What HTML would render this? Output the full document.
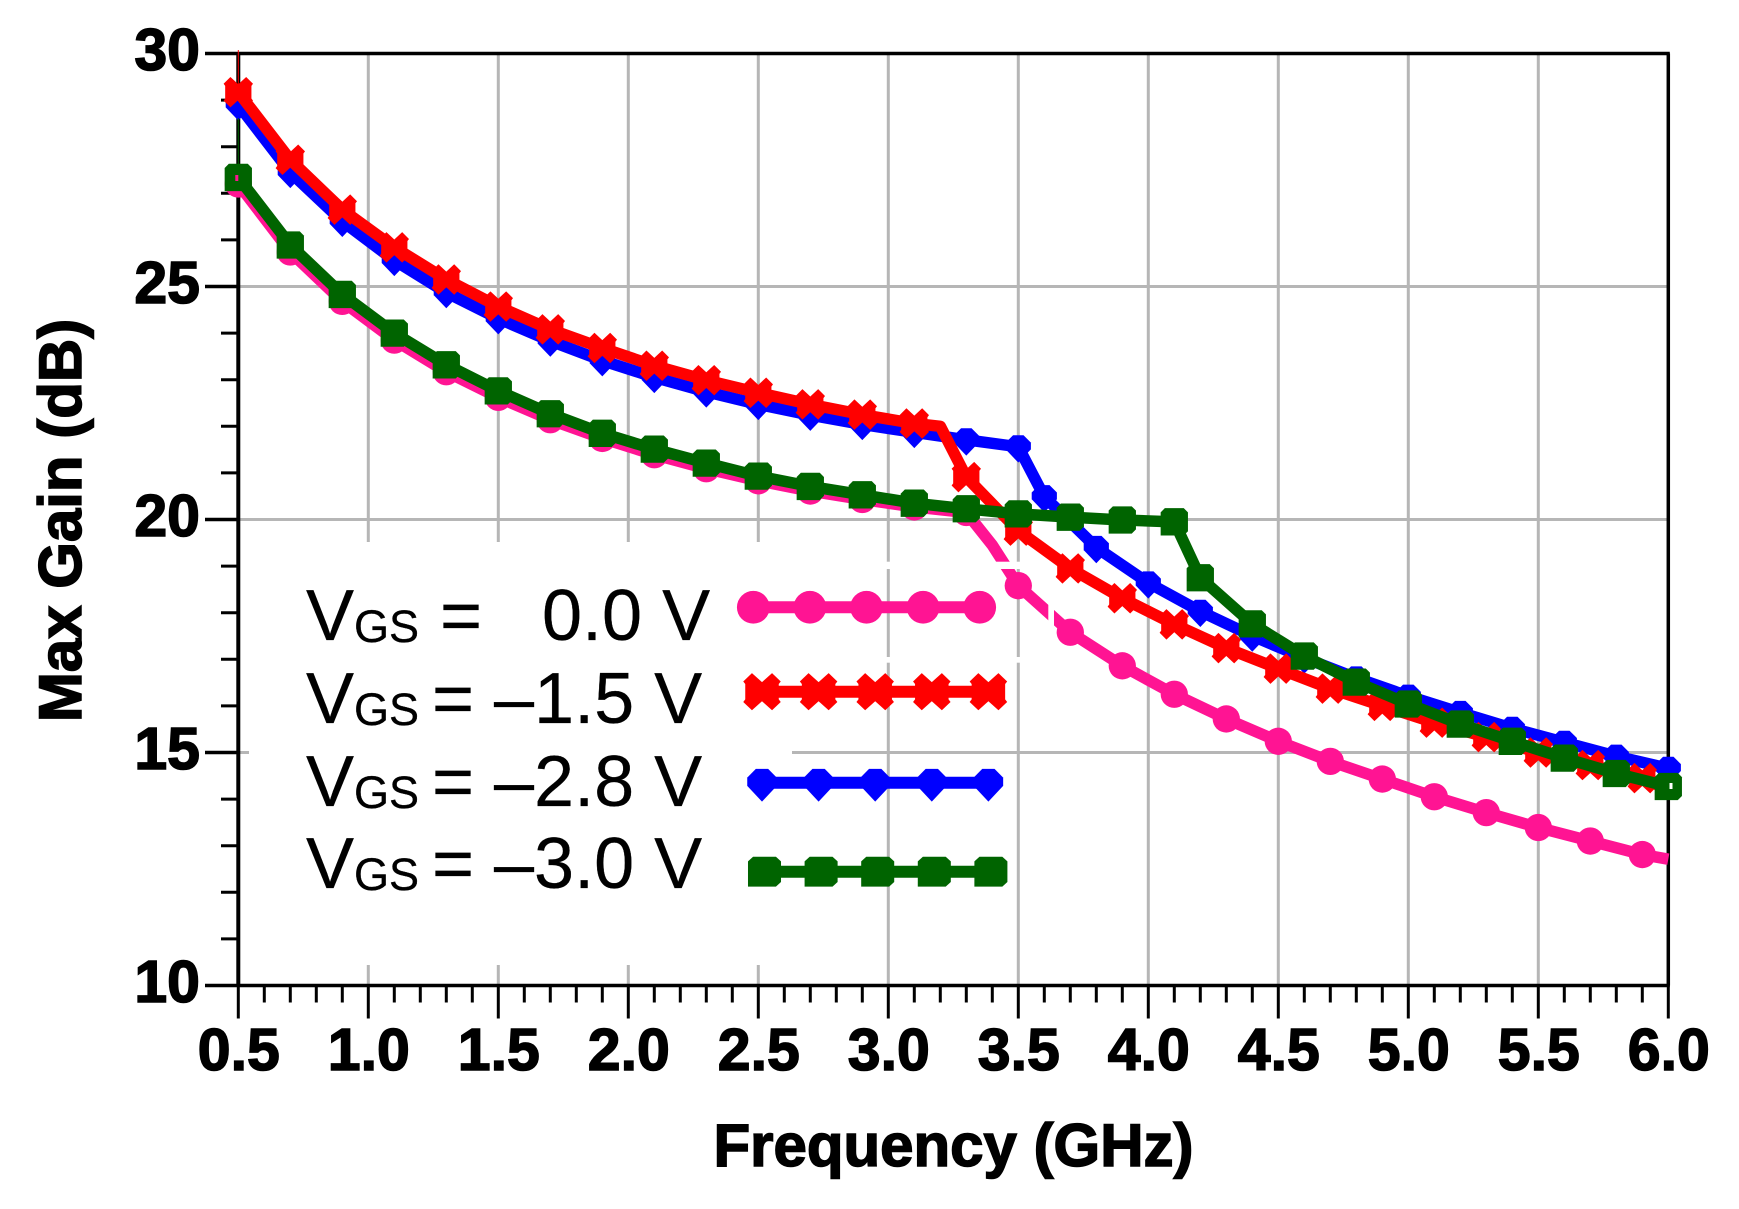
<!DOCTYPE html>
<html lang="en">
<head>
<meta charset="utf-8">
<title>Max Gain vs Frequency</title>
<style>
html,body{margin:0;padding:0;background:#fff;width:1739px;height:1209px;overflow:hidden}
svg{display:block}
text{font-family:"Liberation Sans",Arial,sans-serif;fill:#000}
.bold{font-weight:700;stroke:#000;stroke-width:1.5px}
.tick-label{font-size:59px}
.axis-title{font-size:60px}
.lg{font-size:72px;stroke:#000;stroke-width:.3px}
.sub{font-size:45px;stroke:#000;stroke-width:.3px}
</style>
</head>
<body>
<svg id="chart" xmlns="http://www.w3.org/2000/svg" width="1739" height="1209" viewBox="0 0 1739 1209">
  <rect x="0" y="0" width="1739" height="1209" fill="#fff"/>
  <g id="grid"></g>
  <rect x="249" y="542" width="543" height="423" fill="#fff"/>
  <g id="axes"></g>
  <g id="series"></g>
  <g id="legend-marks"></g>

  <g>
    <g>
      <text class="lg" x="306" y="640">V</text><text class="sub" x="354" y="642">GS</text>
      <text class="lg" x="440" y="640">=</text><text class="lg" x="542" y="640">0.0 V</text>
    </g>
    <g>
      <text class="lg" x="306" y="723">V</text><text class="sub" x="354" y="725">GS</text>
      <text class="lg" x="432" y="723">=</text><text class="lg" x="494" y="723">–1.5 V</text>
    </g>
    <g>
      <text class="lg" x="306" y="806">V</text><text class="sub" x="354" y="808">GS</text>
      <text class="lg" x="432" y="806">=</text><text class="lg" x="494" y="806">–2.8 V</text>
    </g>
    <g>
      <text class="lg" x="306" y="888">V</text><text class="sub" x="354" y="890">GS</text>
      <text class="lg" x="432" y="888">=</text><text class="lg" x="494" y="888">–3.0 V</text>
    </g>
  </g>

  <text class="bold axis-title" x="953.5" y="1166" text-anchor="middle">Frequency (GHz)</text>
  <text class="bold axis-title" transform="translate(81 520.5) rotate(-90)" text-anchor="middle">Max Gain (dB)</text>
</svg>

<script>
const xTickLabels = ["0.5","1.0","1.5","2.0","2.5","3.0","3.5","4.0","4.5","5.0","5.5","6.0"];
const yTickLabels = ["10","15","20","25","30"];

const pinkFreqs = [0.5,0.7,0.9,1.1,1.3,1.5,1.7,1.9,2.1,2.3,2.5,2.7,2.9,3.1,3.3,3.4,3.5,3.7,3.9,4.1,4.3,4.5,4.7,4.9,5.1,5.3,5.5,5.7,5.9,6.0];
const pinkGains = [27.2,25.74,24.68,23.85,23.17,22.62,22.14,21.74,21.39,21.09,20.83,20.61,20.43,20.27,20.15,19.45,18.58,17.58,16.86,16.25,15.72,15.24,14.81,14.43,14.05,13.71,13.39,13.1,12.81,12.71];
const pinkLineOnly = [3.4,6.0];

const redFreqs = [0.5,0.7,0.9,1.1,1.3,1.5,1.7,1.9,2.1,2.3,2.5,2.7,2.9,3.1,3.2,3.3,3.5,3.7,3.9,4.1,4.3,4.5,4.7,4.9,5.1,5.3,5.5,5.7,5.9,6.0];
const redGains = [29.17,27.72,26.65,25.84,25.15,24.57,24.08,23.68,23.3,22.99,22.72,22.47,22.25,22.06,22.0,20.91,19.76,18.95,18.31,17.75,17.24,16.8,16.37,16.0,15.64,15.33,15.0,14.73,14.45,14.2];
const redLineOnly = [3.2,6.0];

const blueFreqs = [0.5,0.7,0.9,1.1,1.3,1.5,1.7,1.9,2.1,2.3,2.5,2.7,2.9,3.1,3.3,3.5,3.6,3.8,4.0,4.2,4.4,4.6,4.8,5.0,5.2,5.4,5.6,5.8,6.0];
const blueGains = [28.9,27.45,26.4,25.56,24.87,24.31,23.83,23.41,23.05,22.74,22.47,22.24,22.04,21.87,21.71,21.56,20.49,19.4,18.64,18.03,17.5,17.03,16.6,16.21,15.86,15.52,15.22,14.92,14.66];
const blueLineOnly = [];

const greenFreqs = [0.5,0.7,0.9,1.1,1.3,1.5,1.7,1.9,2.1,2.3,2.5,2.7,2.9,3.1,3.3,3.5,3.7,3.9,4.1,4.2,4.4,4.6,4.8,5.0,5.2,5.4,5.6,5.8,6.0];
const greenGains = [27.34,25.89,24.83,24.0,23.32,22.76,22.27,21.85,21.51,21.21,20.93,20.71,20.53,20.35,20.23,20.12,20.05,19.99,19.95,18.75,17.76,17.07,16.51,16.04,15.61,15.24,14.88,14.55,14.27];
const greenLineOnly = [];

const SVGNS = "http://www.w3.org/2000/svg";
const X0 = 238.3, PXPERGHZ = 260, Y10 = 985.5, PXPERDB = 46.6;
function xScale(f){ return X0 + (f - 0.5) * PXPERGHZ; }
function yScale(g){ return Y10 - (g - 10) * PXPERDB; }

function make(tag, parent, name){
  const el = document.createElementNS(SVGNS, tag);
  
  
  parent.appendChild(el);
  return el;
}
function line(parent, name, x1, y1, x2, y2, color, w){
  const l = make('line', parent, name);
  l.setAttribute('x1', x1); l.setAttribute('y1', y1);
  l.setAttribute('x2', x2); l.setAttribute('y2', y2);
  l.setAttribute('stroke', color); l.setAttribute('stroke-width', w);
  return l;
}
function rect(parent, name, x, y, w, h, color){
  const r = make('rect', parent, name);
  r.setAttribute('x', x); r.setAttribute('y', y);
  r.setAttribute('width', w); r.setAttribute('height', h);
  r.setAttribute('fill', color);
  return r;
}

/* grid */
const gridG = document.getElementById('grid');
const GRID = '#b6b6b6';
xTickLabels.forEach(function(lab){
  const f = parseFloat(lab);
  if (f > 0.5 && f < 6) line(gridG, 'x-gridline-' + lab, xScale(f), yScale(30), xScale(f), Y10, GRID, 3);
});
yTickLabels.forEach(function(lab){
  const g = parseFloat(lab);
  if (g > 10 && g < 30) line(gridG, 'y-gridline-' + lab, X0, yScale(g), xScale(6), yScale(g), GRID, 3);
});

/* axes */
const axesG = document.getElementById('axes');
line(axesG, 'plot-frame-top', 205, yScale(30), xScale(6) + 1.5, yScale(30), '#000', 3.5);
line(axesG, 'y-axis-line', X0, yScale(30), X0, Y10 + 1.5, '#000', 4);
line(axesG, 'plot-frame-right', xScale(6), yScale(30), xScale(6), Y10, '#000', 3.5);
line(axesG, 'x-axis-line', 205, Y10, xScale(6) + 1.5, Y10, '#000', 3.5);

for (let i = 0; i <= 55; i++) {
  const f = 0.5 + i * 0.1;
  const major = i % 5 === 0;
  line(axesG, major ? 'x-major-tick' : 'x-minor-tick', xScale(f), Y10, xScale(f), Y10 + (major ? 33 : 17), '#000', 3);
}
for (let i = 1; i < 20; i++) {
  if (i % 5 === 0) continue;
  line(axesG, 'y-minor-tick', 221, yScale(10 + i), X0, yScale(10 + i), '#000', 3);
}
yTickLabels.forEach(function(lab){
  const g = parseFloat(lab);
  if (g > 10 && g < 30) line(axesG, 'y-major-tick-' + lab, 205, yScale(g), X0, yScale(g), '#000', 3.5);
  const t = make('text', axesG, 'y-tick-label-' + lab);
  t.setAttribute('class', 'bold tick-label');
  t.setAttribute('x', 200);
  t.setAttribute('y', yScale(g) + 16.5);
  t.setAttribute('text-anchor', 'end');
  t.textContent = lab;
});
xTickLabels.forEach(function(lab){
  const f = parseFloat(lab);
  const t = make('text', axesG, 'x-tick-label-' + lab);
  t.setAttribute('class', 'bold tick-label');
  t.setAttribute('x', xScale(f) + 0.5);
  t.setAttribute('y', 1070);
  t.setAttribute('text-anchor', 'middle');
  t.textContent = lab;
});

/* marker shapes */
const SHAPE_X = [[0,-7.5],[7.5,-14.5],[14,-8],[12.5,-6],[12.5,6],[14,8],[7.5,14.5],[0,7.5],[-7.5,14.5],[-14,8],[-12.5,6],[-12.5,-6],[-14,-8],[-7.5,-14.5]];
const SHAPE_DIAMOND = [[-5,-11],[5,-11],[12,-4],[12,2.5],[0,15],[-12,2.5],[-12,-4]];
const SHAPE_SQUARE = [[-9,-13],[9,-13],[13,-9],[13,9],[9,13],[-13,13],[-13,-9]];

function marker(parent, name, kind, cx, cy, color, sx, sy){
  if (kind === 'circle') {
    const c = make('ellipse', parent, name);
    c.setAttribute('cx', cx); c.setAttribute('cy', cy);
    c.setAttribute('rx', 13 * sx); c.setAttribute('ry', 13 * sy);
    c.setAttribute('fill', color);
    return c;
  }
  const shape = kind === 'x' ? SHAPE_X : (kind === 'diamond' ? SHAPE_DIAMOND : SHAPE_SQUARE);
  const p = make('polygon', parent, name);
  p.setAttribute('points', shape.map(function(q){ return (cx + q[0] * sx) + ',' + (cy + q[1] * sy); }).join(' '));
  p.setAttribute('fill', color);
  return p;
}

function drawSeries(key, kind, color, freqs, gains, lineOnly){
  const g = make('g', document.getElementById('series'), 'series-' + key);
  const path = make('polyline', g, 'line-' + key);
  path.setAttribute('points', freqs.map(function(f, i){ return xScale(f) + ',' + yScale(gains[i]); }).join(' '));
  path.setAttribute('fill', 'none');
  path.setAttribute('stroke', color);
  path.setAttribute('stroke-width', 11.5);
  path.setAttribute('stroke-linejoin', 'round');
  freqs.forEach(function(f, i){
    if (lineOnly.indexOf(f) >= 0) return;
    marker(g, 'point-' + key + '-' + f, kind, xScale(f), yScale(gains[i]), color, 1.05, 1.05);
  });
  return g;
}

const seriesRoot = document.getElementById('series');
drawSeries('vgs-0v', 'circle', '#ff1493', pinkFreqs, pinkGains, pinkLineOnly);

/* white legend-box edges that slice through the pink curve and the two grid lines */
rect(seriesRoot, 'legend-edge-top', 792, 561.7, 262, 7.3, '#fff');
rect(seriesRoot, 'legend-edge-right', 1048.3, 561.7, 5.7, 100, '#fff');
rect(seriesRoot, 'legend-edge-middle', 792, 657, 262, 5.7, '#fff');

drawSeries('vgs-2v8', 'diamond', '#0000ff', blueFreqs, blueGains, blueLineOnly);
drawSeries('vgs-1v5', 'x', '#ff0000', redFreqs, redGains, redLineOnly);
drawSeries('vgs-3v0', 'square', '#006400', greenFreqs, greenGains, greenLineOnly);

/* small artifacts on the y axis and last markers */
rect(seriesRoot, 'red-axis-trace', 237.8, 50, 1, 44, '#ff0000');
rect(seriesRoot, 'green-axis-trace', 237.8, 118, 1, 48, '#006400');
rect(seriesRoot, 'pink-core-first-point', 235.3, 175, 3, 6, '#ff1493');
rect(seriesRoot, 'white-core-last-point', 1669.5, 783, 3, 6, '#fff');

/* legend samples */
const legendRows = [
  {key:'0v',  kind:'circle',  color:'#ff1493', start:753.3, y:607.3, lineFrom:753,  lineTo:980,  sx:1.26, sy:1.26},
  {key:'1v5', kind:'x',       color:'#ff0000', start:762,   y:691.7, lineFrom:746,  lineTo:1005, sx:1.34, sy:1.28},
  {key:'2v8', kind:'diamond', color:'#0000ff', start:762,   y:782.7, lineFrom:762,  lineTo:988,  sx:1.23, sy:1.26},
  {key:'3v0', kind:'square',  color:'#006400', start:764.5, y:871.7, lineFrom:764,  lineTo:990,  sx:1.27, sy:1.15}
];
const legendG = document.getElementById('legend-marks');
legendRows.forEach(function(row){
  line(legendG, 'legend-line-' + row.key, row.lineFrom, row.y, row.lineTo, row.y, row.color, 12);
  for (let i = 0; i < 5; i++) {
    marker(legendG, 'legend-marker-' + row.key, row.kind, row.start + i * 56.6, row.y, row.color, row.sx, row.sy);
  }
});
</script>
</body>
</html>
